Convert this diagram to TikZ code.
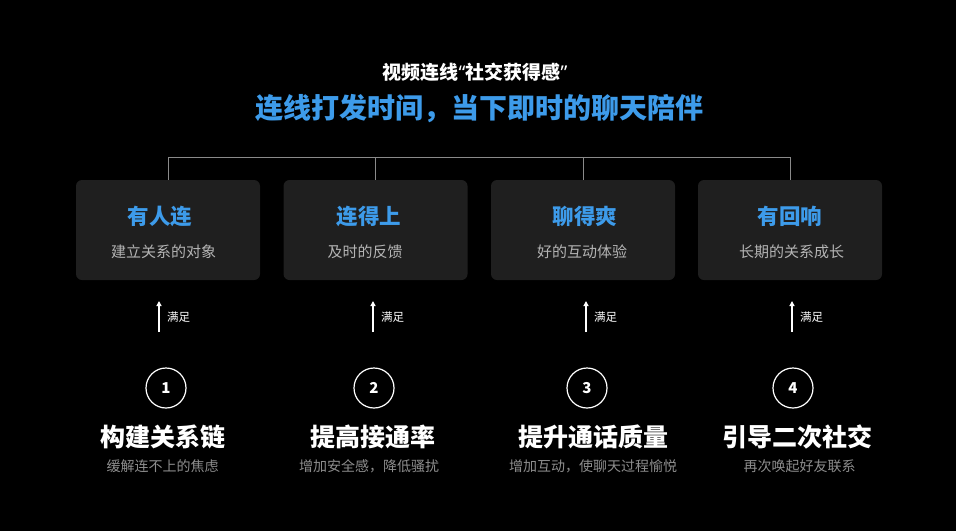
\documentclass[tikz,border=0pt]{standalone}
\usepackage{fontspec}
\setmainfont{Noto Sans CJK SC}
\newfontfamily\quotefont{Noto Sans}
\usetikzlibrary{arrows.meta}
\definecolor{bgcol}{HTML}{000000}
\definecolor{cardfill}{HTML}{1F1F1F}
\definecolor{accent}{HTML}{3D9BEA}
\definecolor{cardsub}{HTML}{B4B4B4}
\definecolor{lowsub}{HTML}{8E8E8E}
\definecolor{linkcol}{HTML}{8A8A8A}
\tikzset{
  card/.style={fill=cardfill, rounded corners=6pt, minimum width=184pt, minimum height=100pt, inner sep=0pt},
  cardtitle/.style={text=accent, font=\fontsize{21.5}{23}\selectfont\bfseries, inner sep=0pt},
  cardsubtitle/.style={text=cardsub, font=\fontsize{15}{17}\selectfont, inner sep=0pt},
  bracket/.style={draw=linkcol, line width=1pt},
  upflow/.style={draw=white, line width=1.2pt, -{Triangle[length=5pt,width=5pt]}},
  flowlabel/.style={text=white, font=\fontsize{11.5}{13}\selectfont, inner sep=0pt, anchor=west},
  numcircle/.style={circle, draw=white, line width=1.2pt, minimum size=40pt, inner sep=0pt, text=white, font=\fontsize{15}{17}\selectfont\bfseries},
  goaltitle/.style={text=white, font=\fontsize{25}{28}\selectfont\bfseries, inner sep=0pt},
  goalsub/.style={text=lowsub, font=\fontsize{14}{16}\selectfont, inner sep=0pt},
}
\begin{document}
\begin{tikzpicture}[x=1pt,y=-1pt]
\fill[bgcol] (0,0) rectangle (956,531);
\useasboundingbox (0,0) rectangle (956,531);

% headings
\node[text=white, font=\fontsize{19}{21}\selectfont\bfseries, inner sep=0pt] (head) at (475,72) {视频连线{\quotefont\bfseries “}社交获得感{\quotefont\bfseries ”}};
\node[text=accent, font=\fontsize{28}{30}\selectfont\bfseries, inner sep=0pt] (slogan) at (479.5,109) {连线打发时间，当下即时的聊天陪伴};

% cards
\node[card] (c1) at (168,230) {};
\node[card] (c2) at (375.5,230) {};
\node[card] (c3) at (583,230) {};
\node[card] (c4) at (790,230) {};

\node[cardtitle] (t1) at (160,216) {有人连};
\node[cardtitle] (t2) at (369,216) {连得上};
\node[cardtitle] (t3) at (585,216) {聊得爽};
\node[cardtitle] (t4) at (790,216) {有回响};

\node[cardsubtitle] (s1) at (163.5,252) {建立关系的对象};
\node[cardsubtitle] (s2) at (365,252) {及时的反馈};
\node[cardsubtitle] (s3) at (582,252) {好的互动体验};
\node[cardsubtitle] (s4) at (791.5,252) {长期的关系成长};

% bracket
\coordinate (bar) at (0,157);
\draw[bracket] (c1.north) -- (c1.north |- bar) -- (c4.north |- bar) -- (c4.north);
\draw[bracket] (c2.north) -- (c2.north |- bar);
\draw[bracket] (c3.north) -- (c3.north |- bar);

% arrows "满足"
\coordinate (a1s) at (159,332); \coordinate (a1e) at (159,301);
\coordinate (a2s) at (373,332); \coordinate (a2e) at (373,301);
\coordinate (a3s) at (586,332); \coordinate (a3e) at (586,301);
\coordinate (a4s) at (792,332); \coordinate (a4e) at (792,301);
\draw[upflow] (a1s) -- (a1e);
\draw[upflow] (a2s) -- (a2e);
\draw[upflow] (a3s) -- (a3e);
\draw[upflow] (a4s) -- (a4e);
\node[flowlabel] (l1) at (167,317) {满足};
\node[flowlabel] (l2) at (381,317) {满足};
\node[flowlabel] (l3) at (594,317) {满足};
\node[flowlabel] (l4) at (800,317) {满足};

% numbered circles
\node[numcircle] (n1) at (166,388) {1};
\node[numcircle] (n2) at (374,388) {2};
\node[numcircle] (n3) at (587,388) {3};
\node[numcircle] (n4) at (793,388) {4};

% goals
\node[goaltitle] (g1) at (163,437) {构建关系链};
\node[goaltitle] (g2) at (373,437) {提高接通率};
\node[goaltitle] (g3) at (593,437) {提升通话质量};
\node[goaltitle] (g4) at (797,437) {引导二次社交};

\node[goalsub] (d1) at (162.5,466) {缓解连不上的焦虑};
\node[goalsub] (d2) at (369,466) {增加安全感，降低骚扰};
\node[goalsub] (d3) at (593,466) {增加互动，使聊天过程愉悦};
\node[goalsub] (d4) at (799.5,466) {再次唤起好友联系};
\end{tikzpicture}
\end{document}
